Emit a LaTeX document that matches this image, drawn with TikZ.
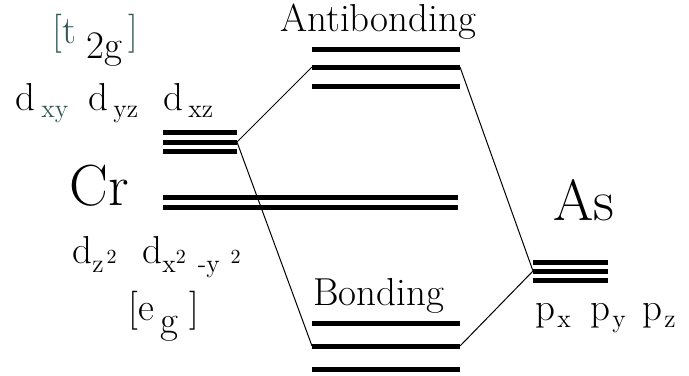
\documentclass[tikz,border=0pt]{standalone}
\usepackage{fontspec}
\definecolor{slate}{HTML}{335652}
\newcommand{\fs}[1]{\fontsize{#1}{#1}\selectfont}
\newcommand{\lowered}[3]{\raisebox{-#1}{\fs{#2}#3}}

\begin{document}
\begin{tikzpicture}[x=0.5pt,y=-0.5pt,
  level/.style={line width=2.5pt},
  link/.style={line width=0.5pt},
  txt/.style={inner sep=0pt,anchor=base west,font=\fs{19.5}},
  big/.style={txt,font=\fs{29}}]
  \useasboundingbox (0,0) rectangle (689,375);
  % Cr d levels
  \foreach \n/\y in {1/132,2/142,3/151}
    \draw[level] (163,\y) coordinate (tl\n) -- (237,\y) coordinate (tr\n);
  \foreach \n/\y in {1/197,2/207}
    \draw[level] (163,\y) coordinate (el\n) -- (458,\y) coordinate (er\n);
  % molecular levels
  \foreach \n/\y in {1/49,2/67,3/86}
    \draw[level] (312,\y) coordinate (abl\n) -- (460,\y) coordinate (abr\n);
  \foreach \n/\y in {1/323,2/346,3/369}
    \draw[level] (312,\y) coordinate (bdl\n) -- (460,\y) coordinate (bdr\n);
  % As p levels
  \foreach \n/\y in {1/262,2/271,3/280}
    \draw[level] (533,\y) coordinate (pl\n) -- (608,\y) coordinate (pr\n);

  \draw[link] (tr2) -- (abl2) (tr2) -- (bdl2);
  \draw[link] (pl2) -- (abr2) (pl2) -- (bdr2);

  \node[txt] (ab) at (280,31) {Antibonding};
  \node[txt] (bd) at (313,305) {Bonding};
  \node[big] (cr) at (69,205) {Cr};
  \node[big] (as) at (553,220) {As};

  \node[txt] (t2g) at (52,43)
    {\textcolor{slate}{[t}\hspace{5.5pt}\raisebox{-7.5pt}{2g}\hspace{3pt}\textcolor{slate}{]}};
  \node[txt] (dxy) at (15,110) {d\hspace{3pt}\lowered{3.5pt}{13}{\textcolor{slate}{xy}}};
  \node[txt] (dyz) at (88,110) {d\hspace{2.5pt}\lowered{3.5pt}{13}{yz}};
  \node[txt] (dxz) at (163,110) {d\hspace{2.5pt}\lowered{3.5pt}{13}{xz}};

  \node[txt] (dz) at (72,263) {d\lowered{4.5pt}{13}{z}\hspace{1.5pt}{\fs{10}2}};
  \node[txt] (dx) at (142,263)
    {d\lowered{4.5pt}{13}{x}{\fs{10}2}\hspace{6pt}\lowered{4.5pt}{13}{-y}\hspace{5.5pt}{\fs{10}2}};
  \node[txt] (eg) at (128,320) {[e\hspace{3.5pt}\raisebox{-6.5pt}{g}\hspace{5.5pt}]};

  \node[txt] (px) at (535,320) {p\hspace{1pt}\lowered{3.5pt}{13}{x}};
  \node[txt] (py) at (590,320) {p\hspace{1pt}\lowered{3.5pt}{13}{y}};
  \node[txt] (pz) at (642,320) {p\hspace{1pt}\lowered{3.5pt}{13}{z}};
\end{tikzpicture}
\end{document}
